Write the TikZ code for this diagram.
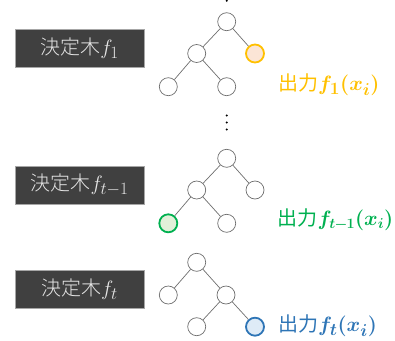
\documentclass[tikz,border=0pt]{standalone}
\usepackage{bm}
\usepackage{fontspec}
\newfontfamily\jp{Noto Sans CJK JP}
\newfontfamily\jplight{Noto Sans CJK JP Light}
\definecolor{boxfill}{HTML}{404040}
\definecolor{boxtext}{HTML}{E6E6E6}
\definecolor{edgegray}{HTML}{6E6E6E}
\definecolor{orangeline}{HTML}{FFC000}
\definecolor{orangefill}{HTML}{FBE5D6}
\definecolor{greenline}{HTML}{00B050}
\definecolor{greenfill}{HTML}{E2F0D9}
\definecolor{blueline}{HTML}{2E75B6}
\definecolor{bluefill}{HTML}{DEEBF7}
% larger math (with roomy subscripts) next to the CJK text
\DeclareMathSizes{22}{22}{16.5}{13}
\DeclareMathSizes{20.5}{20.5}{15.5}{12}
\newcommand{\lmath}[1]{{\fontsize{22}{26}\selectfont$#1$}}
\newcommand{\smath}[1]{{\fontsize{20.5}{24}\selectfont$#1$}}
\tikzset{
  treebox/.style={draw=gray!70, line width=0.8pt, fill=boxfill, text=boxtext,
    minimum width=129pt, minimum height=38pt, inner sep=0pt,
    font=\jplight\fontsize{20}{24}\selectfont},
  leaf/.style={circle, draw=edgegray, line width=0.7pt, fill=white,
    minimum size=18pt, inner sep=0pt},
  hitorange/.style={leaf, draw=orangeline, fill=orangefill, line width=1.8pt},
  hitgreen/.style={leaf, draw=greenline, fill=greenfill, line width=1.8pt},
  hitblue/.style={leaf, draw=blueline, fill=bluefill, line width=1.8pt},
  branch/.style={draw=edgegray, line width=0.7pt},
  outlabel/.style={anchor=west, inner sep=0pt, font=\jp\fontsize{20}{24}\selectfont},
  vdot/.style={circle, fill=black, minimum size=2.2pt, inner sep=0pt}
}
\begin{document}
\begin{tikzpicture}[x=1pt, y=-1pt]
\useasboundingbox (0,0) rectangle (395,340);

% dots above the first tree and between trees
\node[vdot] (d0) at (226.7,0.8) {};
\node[vdot] (d1) at (226.7,115.5) {};
\node[vdot] (d2) at (226.7,122.5) {};
\node[vdot] (d3) at (226.7,129.5) {};

% tree f_1
\node[treebox] (b1) at (79.5,48) {決定木\lmath{f_1}};
\node[leaf] (a0) at (226.7,21.7) {};
\node[leaf] (a1) at (196.7,53.5) {};
\node[hitorange] (a2) at (255,53.5) {};
\node[leaf] (a3) at (168.3,86.7) {};
\node[leaf] (a4) at (226.7,86.7) {};
\draw[branch] (a0) -- (a1);
\draw[branch] (a0) -- (a2);
\draw[branch] (a1) -- (a3);
\draw[branch] (a1) -- (a4);
\node[outlabel, text=orangeline] (o1) at (278,85) {出力\lmath{\bm{f_1(x_i)}}};

% tree f_{t-1}
\node[treebox] (b2) at (79.5,185) {決定木\lmath{f_{t-1}}};
\node[leaf] (c0) at (226.7,158.3) {};
\node[leaf] (c1) at (196.7,190) {};
\node[leaf] (c2) at (255,190) {};
\node[hitgreen] (c3) at (168.3,223.3) {};
\node[leaf] (c4) at (226.7,223.3) {};
\draw[branch] (c0) -- (c1);
\draw[branch] (c0) -- (c2);
\draw[branch] (c1) -- (c3);
\draw[branch] (c1) -- (c4);
\node[outlabel, text=greenline] (o2) at (277.5,220) {出力\smath{\bm{f_{t\mkern-1mu-\mkern-1mu1}(x_i)}}};

% tree f_t
\node[treebox] (b3) at (79.5,289.5) {決定木\lmath{f_t}};
\node[leaf] (e0) at (196.7,262.3) {};
\node[leaf] (e1) at (168.3,295) {};
\node[leaf] (e2) at (226,295) {};
\node[leaf] (e3) at (196.7,326.7) {};
\node[hitblue] (e4) at (255,326.7) {};
\draw[branch] (e0) -- (e1);
\draw[branch] (e0) -- (e2);
\draw[branch] (e2) -- (e3);
\draw[branch] (e2) -- (e4);
\node[outlabel, text=blueline] (o3) at (278,326) {出力\lmath{\bm{f_t(x_i)}}};
\end{tikzpicture}
\end{document}
